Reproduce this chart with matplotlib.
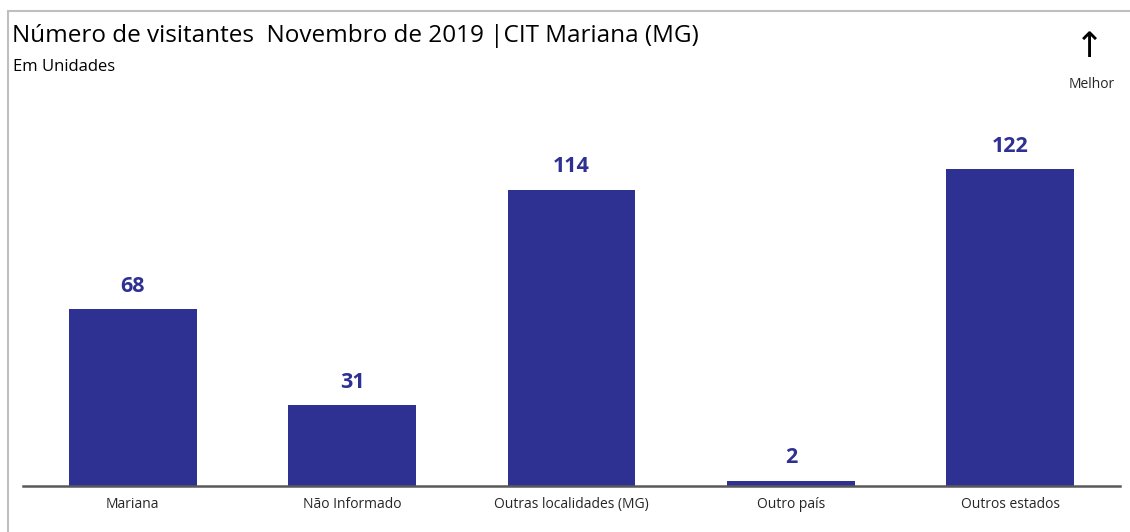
import matplotlib.pyplot as plt
from matplotlib.patches import Rectangle

categorias = ['Mariana', 'Não Informado', 'Outras localidades (MG)', 'Outro país', 'Outros estados']
visitantes = [68, 31, 114, 2, 122]

azul = '#2E3192'
plt.rcParams['font.family'] = ['Open Sans', 'DejaVu Sans']

W, H = 1130, 532
fig = plt.figure(figsize=(W / 100, H / 100), dpi=100)

# frame around the whole card (runs off right and bottom edges)
fig.patches.append(Rectangle((8 / W, -0.2), 1.2, 1.2 - 11 / H, transform=fig.transFigure,
                             fill=False, edgecolor='#BFBFBF', linewidth=1.5))

# plot area: baseline at y=486 px, x from 23 to 1120 px
ax = fig.add_axes([23 / W, 1 - 486 / H, (1120 - 23) / W, (486 - 100) / H])
x = range(len(categorias))
bars = ax.bar(x, visitantes, width=0.583, color=azul)
ax.set_xlim(-0.5, len(categorias) - 0.5)
ax.set_ylim(0, 148.6)

for b, v in zip(bars, visitantes):
    ax.annotate(str(v), (b.get_x() + b.get_width() / 2, v), xytext=(0, 9),
                textcoords='offset points', ha='center', va='bottom',
                fontsize=15.5, fontweight='bold', color=azul)

for s in ['top', 'right', 'left']:
    ax.spines[s].set_visible(False)
ax.spines['bottom'].set_color('#595959')
ax.spines['bottom'].set_linewidth(1.8)
ax.set_yticks([])
ax.set_xticks(list(x))
ax.set_xticklabels(categorias, fontsize=10, color='#262626')
ax.tick_params(axis='x', length=0, pad=8)

fig.text(12 / W, 1 - 36 / H, 'Número de visitantes  Novembro de 2019 |CIT Mariana (MG)',
         fontsize=17.5, va='center', ha='left', color='black')
fig.text(13 / W, 1 - 67 / H, 'Em Unidades', fontsize=12, va='center', ha='left', color='black')
fig.text(1089 / W, 1 - 47 / H, '↑', fontsize=25, va='center', ha='center',
         family='DejaVu Sans', color='black')
fig.text(1092 / W, 1 - 84 / H, 'Melhor', fontsize=10, va='center', ha='center', color='#262626')

fig.savefig('out.png', dpi=100)
